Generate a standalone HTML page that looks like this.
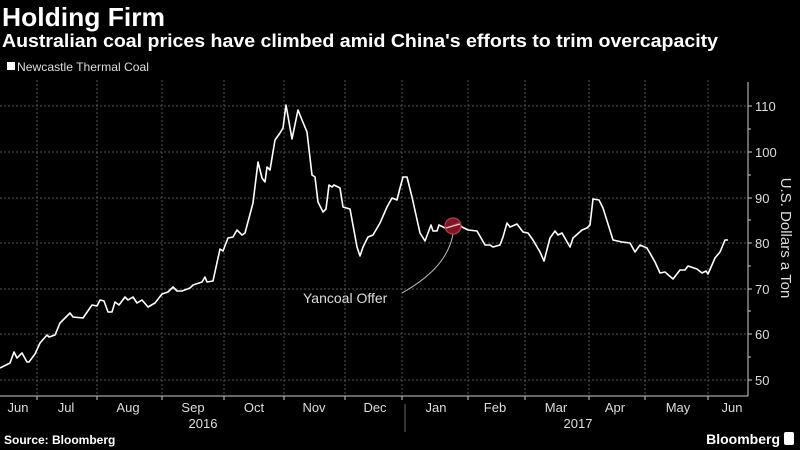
<!DOCTYPE html>
<html><head><meta charset="utf-8"><style>
html,body{margin:0;padding:0;background:#000;}
svg{display:block;font-family:"Liberation Sans",sans-serif;}
</style></head><body>
<svg width="800" height="450" viewBox="0 0 800 450" xmlns="http://www.w3.org/2000/svg">
<rect width="800" height="450" fill="#000"/>
<text x="2" y="26" fill="#fff" font-size="26" font-weight="bold" textLength="163" lengthAdjust="spacingAndGlyphs">Holding Firm</text>
<text x="2" y="47" fill="#fff" font-size="18" font-weight="bold" textLength="716" lengthAdjust="spacingAndGlyphs">Australian coal prices have climbed amid China's efforts to trim overcapacity</text>
<rect x="7" y="62" width="8" height="8" fill="#fff"/>
<text x="17" y="71" fill="#ddd" font-size="12" textLength="132" lengthAdjust="spacingAndGlyphs">Newcastle Thermal Coal</text>
<g stroke="#555" stroke-width="1" stroke-dasharray="2,2">
<line x1="37" y1="80" x2="37" y2="396"/><line x1="97" y1="80" x2="97" y2="396"/><line x1="162" y1="80" x2="162" y2="396"/><line x1="224" y1="80" x2="224" y2="396"/><line x1="284" y1="80" x2="284" y2="396"/><line x1="345" y1="80" x2="345" y2="396"/><line x1="402" y1="80" x2="402" y2="396"/><line x1="468" y1="80" x2="468" y2="396"/><line x1="525" y1="80" x2="525" y2="396"/><line x1="589" y1="80" x2="589" y2="396"/><line x1="645" y1="80" x2="645" y2="396"/><line x1="708" y1="80" x2="708" y2="396"/>
<line x1="0" y1="106" x2="748" y2="106"/><line x1="0" y1="152" x2="748" y2="152"/><line x1="0" y1="198" x2="748" y2="198"/><line x1="0" y1="243" x2="748" y2="243"/><line x1="0" y1="289" x2="748" y2="289"/><line x1="0" y1="334" x2="748" y2="334"/><line x1="0" y1="380" x2="748" y2="380"/>
</g>
<g stroke="#ccc" stroke-width="1">
<line x1="748" y1="82" x2="748" y2="396"/><line x1="0" y1="396" x2="748" y2="396"/>
<line x1="748" y1="106" x2="752" y2="106"/><line x1="748" y1="152" x2="752" y2="152"/><line x1="748" y1="198" x2="752" y2="198"/><line x1="748" y1="243" x2="752" y2="243"/><line x1="748" y1="289" x2="752" y2="289"/><line x1="748" y1="334" x2="752" y2="334"/><line x1="748" y1="380" x2="752" y2="380"/>
<line x1="748" y1="129" x2="751" y2="129"/><line x1="748" y1="175" x2="751" y2="175"/><line x1="748" y1="220" x2="751" y2="220"/><line x1="748" y1="266" x2="751" y2="266"/><line x1="748" y1="311" x2="751" y2="311"/><line x1="748" y1="357" x2="751" y2="357"/>
<line x1="37" y1="396" x2="37" y2="400"/><line x1="97" y1="396" x2="97" y2="400"/><line x1="162" y1="396" x2="162" y2="400"/><line x1="224" y1="396" x2="224" y2="400"/><line x1="284" y1="396" x2="284" y2="400"/><line x1="345" y1="396" x2="345" y2="400"/><line x1="402" y1="396" x2="402" y2="400"/><line x1="468" y1="396" x2="468" y2="400"/><line x1="525" y1="396" x2="525" y2="400"/><line x1="589" y1="396" x2="589" y2="400"/><line x1="645" y1="396" x2="645" y2="400"/><line x1="708" y1="396" x2="708" y2="400"/>
<line x1="405" y1="404" x2="405" y2="432" stroke="#666"/>
</g>
<g fill="#ddd" font-size="13">
<text x="755" y="111">110</text><text x="755" y="157">100</text><text x="755" y="203">90</text><text x="755" y="248">80</text><text x="755" y="294">70</text><text x="755" y="339">60</text><text x="755" y="385">50</text>
</g>
<text transform="translate(781,238) rotate(90)" fill="#ddd" font-size="15" text-anchor="middle">U.S. Dollars a Ton</text>
<g fill="#ddd" font-size="13" text-anchor="middle">
<text x="18" y="412">Jun</text><text x="66" y="412">Jul</text><text x="128" y="412">Aug</text><text x="193" y="412">Sep</text><text x="254" y="412">Oct</text><text x="314" y="412">Nov</text><text x="375" y="412">Dec</text><text x="436" y="412">Jan</text><text x="495" y="412">Feb</text><text x="556" y="412">Mar</text><text x="615" y="412">Apr</text><text x="678" y="412">May</text><text x="732" y="412">Jun</text>
<text x="203" y="428">2016</text><text x="578" y="428">2017</text>
</g>
<text x="4" y="444" fill="#fff" font-size="12" font-weight="bold">Source: Bloomberg</text>
<text x="780" y="444" fill="#fff" font-size="14" font-weight="bold" text-anchor="end">Bloomberg</text>
<rect x="784" y="432" width="10" height="13" rx="2" fill="#fff"/>
<polyline fill="none" stroke="#fff" stroke-width="1.6" stroke-linejoin="round" points="0,368 10,363 14,352 17,358 22,353 27,362 29,362 35,354 40,343 47,335 49,337 55,335 60,323 70,313 73,317 83,318 92,305 97,306 100,300 104,301 108,312 112,312 115,302 119,305 125,297 128,300 133,297 137,303 142,300 148,307 155,303 162,294 168,292 173,287 177,291 182,291 190,288 193,285 202,282 205,277 207,282 213,281 220,249 223,251 228,238 233,237 237,230 242,235 245,233 253,203 258,162 262,178 265,182 267,167 270,170 275,140 280,133 283,128 286,105 292,139 298,110 302,120 307,132 312,175 315,177 318,202 323,212 326,209 329,185 332,187 334,185 340,188 343,207 350,209 357,247 360,256 363,247 368,237 373,235 380,223 387,207 392,198 397,200 400,188 403,177 407,177 412,197 420,233 425,241 431,225 433,231 437,231 439,225 445,228 450,227 458,223 462,227 468,230 477,231 485,245 490,245 493,247 500,245 503,237 507,223 510,227 517,224 523,232 528,233 533,240 540,252 544,261 550,238 555,231 558,235 562,233 570,247 573,238 582,230 587,228 590,225 593,199 599,200 603,208 613,240 622,242 630,243 635,252 640,245 647,248 655,262 660,273 665,272 673,279 680,270 685,270 688,266 697,269 702,273 706,271 708,274 715,258 720,252 725,240 728,240"/>
<path d="M453,234 C448,262 425,280 402,293" fill="none" stroke="#bbb" stroke-width="1"/>
<circle cx="453" cy="226" r="8" fill="#8b1a2a" stroke="#c0394b" stroke-width="1.2" fill-opacity="0.9"/>
<line x1="446" y1="228" x2="460" y2="224" stroke="#f0c0c8" stroke-width="1.3"/>
<text x="303" y="303" fill="#ddd" font-size="14">Yancoal Offer</text>
</svg>
</body></html>
